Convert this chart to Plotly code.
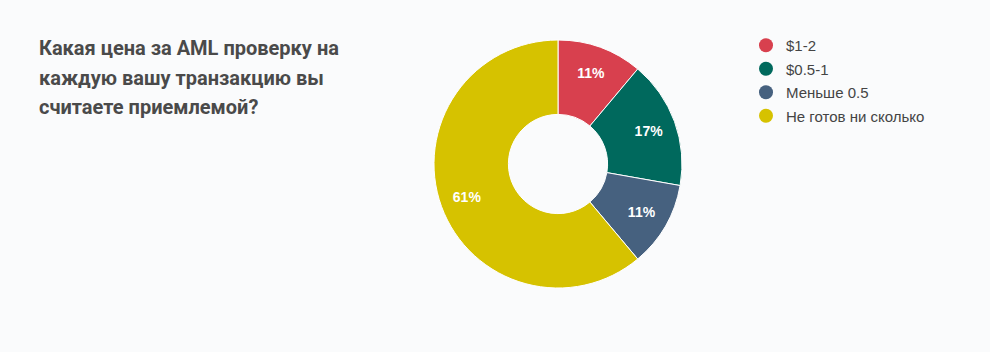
import plotly.graph_objects as go

categories = ["$1-2", "$0.5-1", "Меньше 0.5", "Не готов ни сколько"]
values = [2, 3, 2, 11]
colors = ["#d8404e", "#00695d", "#46617f", "#d6c200"]
title_lines = ["Какая цена за AML проверку на", "каждую вашу транзакцию вы", "считаете приемлемой?"]

W, H = 990, 352
cx, cy, r = 558, 164, 124
dom = dict(x=[(cx - r) / W, (cx + r) / W], y=[(H - cy - r) / H, (H - cy + r) / H])

fig = go.Figure()
# coloured ring
fig.add_trace(go.Pie(
    labels=categories, values=values, hole=0.4, sort=False, direction="clockwise", rotation=0,
    marker=dict(colors=colors, line=dict(color="white", width=1)),
    textinfo="none", showlegend=False, hoverinfo="skip", domain=dom,
))
# transparent ring carrying the percentage labels a little further out
fig.add_trace(go.Pie(
    labels=categories, values=values, hole=0.56, sort=False, direction="clockwise", rotation=0,
    marker=dict(colors=["rgba(0,0,0,0)"] * len(values), line=dict(width=0)),
    textinfo="percent", texttemplate="%{percent:.0%}", textposition="inside",
    insidetextorientation="horizontal",
    textfont=dict(family="Liberation Sans, Arial", size=14, color="white", weight="bold"),
    showlegend=False, domain=dom,
))
for i, (c, col) in enumerate(zip(categories, colors)):
    fig.add_trace(go.Scatter(x=[None], y=[None], mode="markers", name=c,
                             marker=dict(symbol="circle", size=14, color=col),
                             legendgroup=f"g{i}", showlegend=True))

for i, line in enumerate(title_lines):
    fig.add_annotation(text=line, xref="paper", yref="paper", x=37 / W, y=1 - (34 + i * 29.5) / H,
                       xanchor="left", yanchor="top", showarrow=False,
                       font=dict(family="Roboto", size=20, color="#4a4a4a", weight="bold"))

fig.update_layout(
    width=W, height=H, margin=dict(l=0, r=0, t=0, b=0),
    paper_bgcolor="#fafbfc", plot_bgcolor="#fafbfc",
    xaxis=dict(visible=False), yaxis=dict(visible=False),
    legend=dict(x=746 / W, y=1 - 29 / H, xanchor="left", yanchor="top",
                traceorder="grouped", tracegroupgap=1, itemsizing="trace",
                font=dict(family="Liberation Sans, Arial", size=15, color="#444444"),
                bgcolor="rgba(0,0,0,0)"),
)
fig.write_html("out.html")
